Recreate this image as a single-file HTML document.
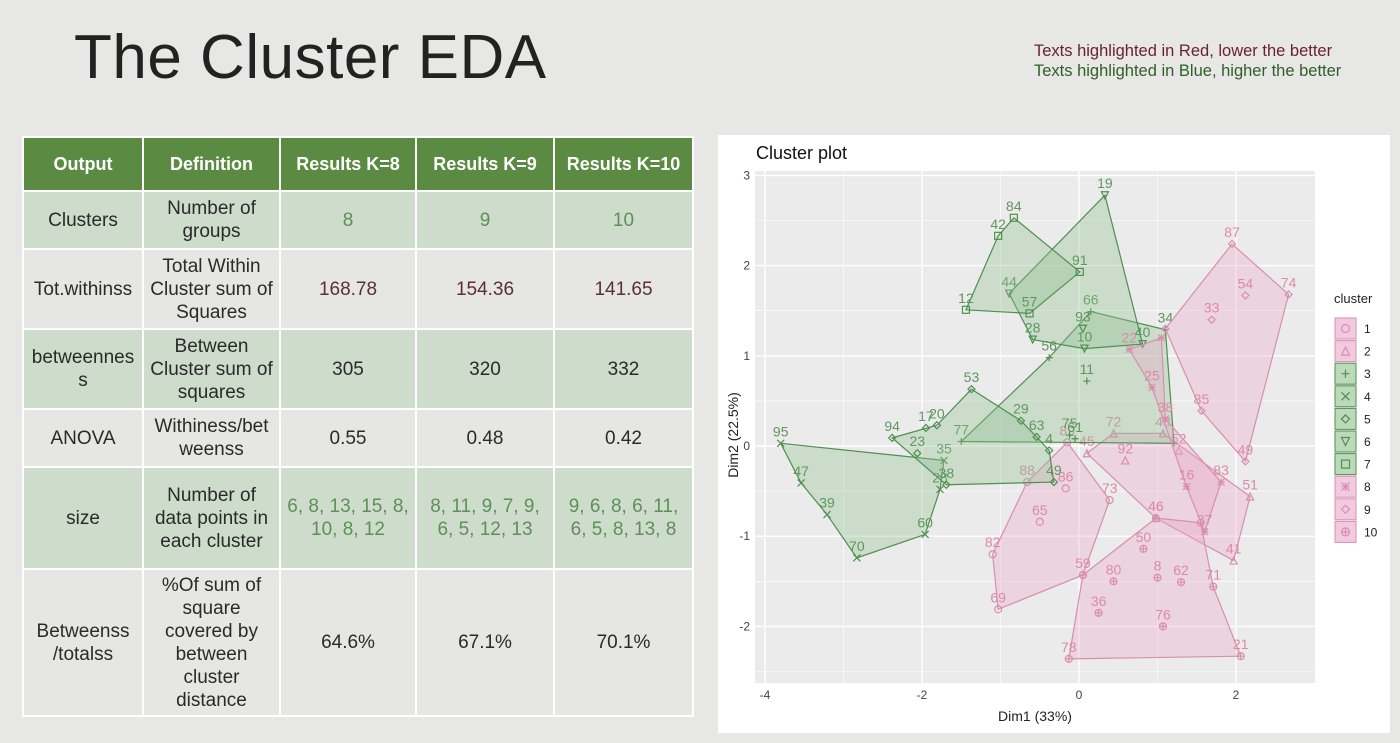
<!DOCTYPE html>
<html><head><meta charset="utf-8">
<style>
body{margin:0;width:1400px;height:743px;background:#e7e7e6;font-family:"Liberation Sans",sans-serif;position:relative;overflow:hidden}
#title{position:absolute;left:74px;top:22px;font-size:62px;color:#222;font-weight:normal;letter-spacing:0.5px}
.note{position:absolute;left:1034px;font-size:16.5px}
table{position:absolute;left:22px;top:136px;border-collapse:collapse;width:670px;table-layout:fixed}
td,th{border:2px solid #fff;text-align:center;font-size:19px;color:#2a2a2a;padding:0 6px;line-height:23px}
td.bk{word-break:break-all}
th{background:#5b8b43;color:#fff;font-weight:bold;height:52px;font-size:18px}
tr.g td{background:#cddccb}
tr.l td{background:#e6e6e4}
.gv{color:#5f8f58}.rv{color:#5a3038}
#panel{position:absolute;left:718px;top:135px;width:672px;height:598px;background:#fff}
</style></head><body>
<div id="title">The Cluster EDA</div>
<div class="note" style="top:42px;color:#6a2230">Texts highlighted in Red, lower the better</div>
<div class="note" style="top:62px;color:#2f5f25">Texts highlighted in Blue, higher the better</div>
<table>
<colgroup><col style="width:120px"><col style="width:137px"><col style="width:136px"><col style="width:138px"><col style="width:139px"></colgroup>
<tr><th>Output</th><th>Definition</th><th>Results K=8</th><th>Results K=9</th><th>Results K=10</th></tr>
<tr class="g" style="height:58px"><td>Clusters</td><td>Number of groups</td><td class="gv">8</td><td class="gv">9</td><td class="gv">10</td></tr>
<tr class="l" style="height:80px"><td class="bk">Tot.withinss</td><td>Total Within Cluster sum of Squares</td><td class="rv">168.78</td><td class="rv">154.36</td><td class="rv">141.65</td></tr>
<tr class="g" style="height:80px"><td class="bk">betweenness</td><td>Between Cluster sum of squares</td><td>305</td><td>320</td><td>332</td></tr>
<tr class="l" style="height:58px"><td>ANOVA</td><td class="bk">Withiness/betweenss</td><td>0.55</td><td>0.48</td><td>0.42</td></tr>
<tr class="g" style="height:102px"><td>size</td><td>Number of data points in each cluster</td><td class="gv">6, 8, 13, 15, 8, 10, 8, 12</td><td class="gv">8, 11, 9, 7, 9, 6, 5, 12, 13</td><td class="gv">9, 6, 8, 6, 11, 6, 5, 8, 13, 8</td></tr>
<tr class="l" style="height:147px"><td>Betweenss /totalss</td><td>%Of sum of square covered by between cluster distance</td><td>64.6%</td><td>67.1%</td><td>70.1%</td></tr>
</table>
<div id="panel">
<svg id="chart" width="672" height="598" xmlns="http://www.w3.org/2000/svg"></svg>
</div>
<script>
const xTicks=[-4,-2,0,2];
const yTicks=[-2,-1,0,1,2,3];
const clusterIds=['1','2','3','4','5','6','7','8','9','10'];
const c1Labels=['89','73','59','69','82','88','86','65'];
const c1X=[-0.15,0.39,0.05,-1.03,-1.1,-0.66,-0.17,-0.5];
const c1Y=[0.04,-0.6,-1.43,-1.81,-1.2,-0.4,-0.47,-0.84];
const c2Labels=['72','43','51','41','46','45','92','52'];
const c2X=[0.44,1.07,2.18,1.97,0.98,0.1,0.59,1.27];
const c2Y=[0.14,0.14,-0.56,-1.27,-0.8,-0.08,-0.16,-0.05];
const c3Labels=['77','56','66','34','','11','61','75'];
const c3X=[-1.5,-0.38,0.15,1.1,1.21,0.1,-0.05,-0.12];
const c3Y=[0.05,0.98,1.49,1.29,0.03,0.72,0.08,0.12];
const c4Labels=['95','35','28','60','70','39','47'];
const c4X=[-3.8,-1.72,-1.77,-1.96,-2.83,-3.21,-3.54];
const c4Y=[0.03,-0.16,-0.48,-0.98,-1.24,-0.76,-0.41];
const c5Labels=['94','20','53','29','63','4','49','38','23','17'];
const c5X=[-2.38,-1.81,-1.37,-0.74,-0.54,-0.38,-0.32,-1.69,-2.06,-1.95];
const c5Y=[0.09,0.23,0.63,0.28,0.1,-0.05,-0.4,-0.43,-0.08,0.2];
const c6Labels=['44','19','40','10','28','93'];
const c6X=[-0.89,0.33,0.81,0.07,-0.59,0.05];
const c6Y=[1.69,2.78,1.13,1.08,1.18,1.3];
const c7Labels=['42','84','91','57','12'];
const c7X=[-1.03,-0.83,0.01,-0.63,-1.44];
const c7Y=[2.33,2.53,1.93,1.47,1.51];
const c8Labels=['22','','38','83','37','16','25'];
const c8X=[0.64,1.05,1.1,1.81,1.6,1.37,0.93];
const c8Y=[1.07,1.2,0.3,-0.4,-0.95,-0.45,0.65];
const c9Labels=['','87','74','49','85','54','33'];
const c9X=[1.1,1.95,2.67,2.12,1.56,2.12,1.69];
const c9Y=[1.3,2.24,1.68,-0.17,0.39,1.67,1.4];
const c10Labels=['','46','','71','21','78','36','80','62','8','50','76'];
const c10X=[0.05,0.98,1.55,1.71,2.06,-0.13,0.25,0.44,1.3,1.0,0.82,1.07];
const c10Y=[-1.43,-0.8,-0.85,-1.56,-2.33,-2.36,-1.85,-1.5,-1.51,-1.46,-1.14,-2.0];
const hullCounts=[6,6,5,7,8,5,5,7,5,6];

const X0=755-718,X1=1315-718,Y0=171-135,Y1=683-135;
const sx=v=>(1079-718)+v*78.5;
const sy=v=>(446-135)-v*90.2;
const NS='http://www.w3.org/2000/svg';
const svg=document.getElementById('chart');
function mk(t,a,p){const e=document.createElementNS(NS,t);for(const k in a)e.setAttribute(k,a[k]);(p||svg).appendChild(e);return e;}
let r=mk('rect',{x:X0,y:Y0,width:X1-X0,height:Y1-Y0,fill:'#ebebeb'});


for(let v=-4;v<=2.6;v+=1){const l=mk('line',{x1:sx(v),x2:sx(v),y1:Y0,y2:Y1,stroke:'#fff','stroke-width':v%2===0?1.4:0.6});}
for(let v=-2.5;v<=3;v+=0.5){const l=mk('line',{y1:sy(v),y2:sy(v),x1:X0,x2:X1,stroke:'#fff','stroke-width':Number.isInteger(v)?1.4:0.6});}
xTicks.forEach(v=>{const t=mk('text',{x:sx(v),y:Y1+16,'text-anchor':'middle','font-size':12,fill:'#444'});t.textContent=v;});
yTicks.forEach(v=>{const t=mk('text',{x:X0-5,y:sy(v)+4,'text-anchor':'end','font-size':12,fill:'#444'});t.textContent=v;});
let t=mk('text',{x:38,y:24,'font-size':18,fill:'#111'});t.textContent='Cluster plot';


t=mk('text',{x:(X0+X1)/2,y:586,'text-anchor':'middle','font-size':14,fill:'#222'});t.textContent='Dim1 (33%)';


t=mk('text',{x:0,y:0,'text-anchor':'middle','font-size':14,fill:'#222',transform:'translate(20,300) rotate(-90)'});t.textContent='Dim2 (22.5%)';


const G={fill:'#8fbf8f',stroke:'#4f8f4f',text:'#5f975f'};
const P={fill:'#eaa6cc',stroke:'#d88fad',text:'#dc8aa5'};
const pal=[P,P,G,G,G,G,G,P,P,P];
const syms=['o','tri','+','x','dia','tdn','sq','*','dp','cp'];
const data=[[c1Labels,c1X,c1Y],[c2Labels,c2X,c2Y],[c3Labels,c3X,c3Y],[c4Labels,c4X,c4Y],[c5Labels,c5X,c5Y],[c6Labels,c6X,c6Y],[c7Labels,c7X,c7Y],[c8Labels,c8X,c8Y],[c9Labels,c9X,c9Y],[c10Labels,c10X,c10Y]];
function sym(s,x,y,c,p,sz){sz=sz||3.5;const a={fill:'none',stroke:c,'stroke-width':1.2};let e;
 if(s==='o'){e=mk('circle',Object.assign({cx:x,cy:y,r:sz},a),p);}
 else if(s==='tri'){e=mk('polygon',Object.assign({points:`${x},${y-sz} ${x-sz},${y+sz} ${x+sz},${y+sz}`},a),p);}
 else if(s==='tdn'){e=mk('polygon',Object.assign({points:`${x},${y+sz} ${x-sz},${y-sz} ${x+sz},${y-sz}`},a),p);}
 else if(s==='+'){e=mk('path',Object.assign({d:`M${x-sz} ${y}H${x+sz}M${x} ${y-sz}V${y+sz}`},a),p);}
 else if(s==='x'){e=mk('path',Object.assign({d:`M${x-sz} ${y-sz}L${x+sz} ${y+sz}M${x-sz} ${y+sz}L${x+sz} ${y-sz}`},a),p);}
 else if(s==='dia'||s==='dp'){e=mk('polygon',Object.assign({points:`${x},${y-sz} ${x+sz},${y} ${x},${y+sz} ${x-sz},${y}`},a),p);}
 else if(s==='sq'){e=mk('rect',Object.assign({x:x-sz,y:y-sz,width:2*sz,height:2*sz},a),p);}
 else if(s==='*'){e=mk('path',Object.assign({d:`M${x-sz} ${y}H${x+sz}M${x} ${y-sz}V${y+sz}M${x-sz} ${y-sz}L${x+sz} ${y+sz}M${x-sz} ${y+sz}L${x+sz} ${y-sz}`},a),p);}
 else {e=mk('circle',Object.assign({cx:x,cy:y,r:sz},a),p);mk('path',Object.assign({d:`M${x-sz} ${y}H${x+sz}M${x} ${y-sz}V${y+sz}`},a),p);}
 return e;}
data.forEach((d,i)=>{
 const g=mk('g',{});
 
 
 const n=hullCounts[i];let pts=[];
 for(let k=0;k<n;k++)pts.push(sx(d[1][k])+','+sy(d[2][k]));
 const poly=mk('polygon',{points:pts.join(' '),fill:pal[i].fill,'fill-opacity':0.35,stroke:pal[i].stroke,'stroke-width':1.2},g);
 
 
 d[0].forEach((lab,k)=>{
  const x=sx(d[1][k]),y=sy(d[2][k]);
  const s=sym(syms[i],x,y,pal[i].stroke,g);
  
  
  if(lab){const tt=mk('text',{x:x,y:y-7,'text-anchor':'middle','font-size':14,fill:pal[i].text},g);tt.textContent=lab;
  
  }
 });
});
t=mk('text',{x:616,y:168,'font-size':13,fill:'#222'});t.textContent='cluster';


clusterIds.forEach((id,i)=>{
 const y=183+i*22.6;
 const g=mk('g',{});
 
 
 mk('rect',{x:617,y:y,width:21,height:21,fill:pal[i].fill,'fill-opacity':0.6,stroke:pal[i].stroke,'stroke-width':1},g);
 sym(syms[i],627.5,y+10.5,pal[i].stroke,g,4);
 const tt=mk('text',{x:646,y:y+15,'font-size':12,fill:'#222'},g);tt.textContent=id;
});
</script>
</body></html>
